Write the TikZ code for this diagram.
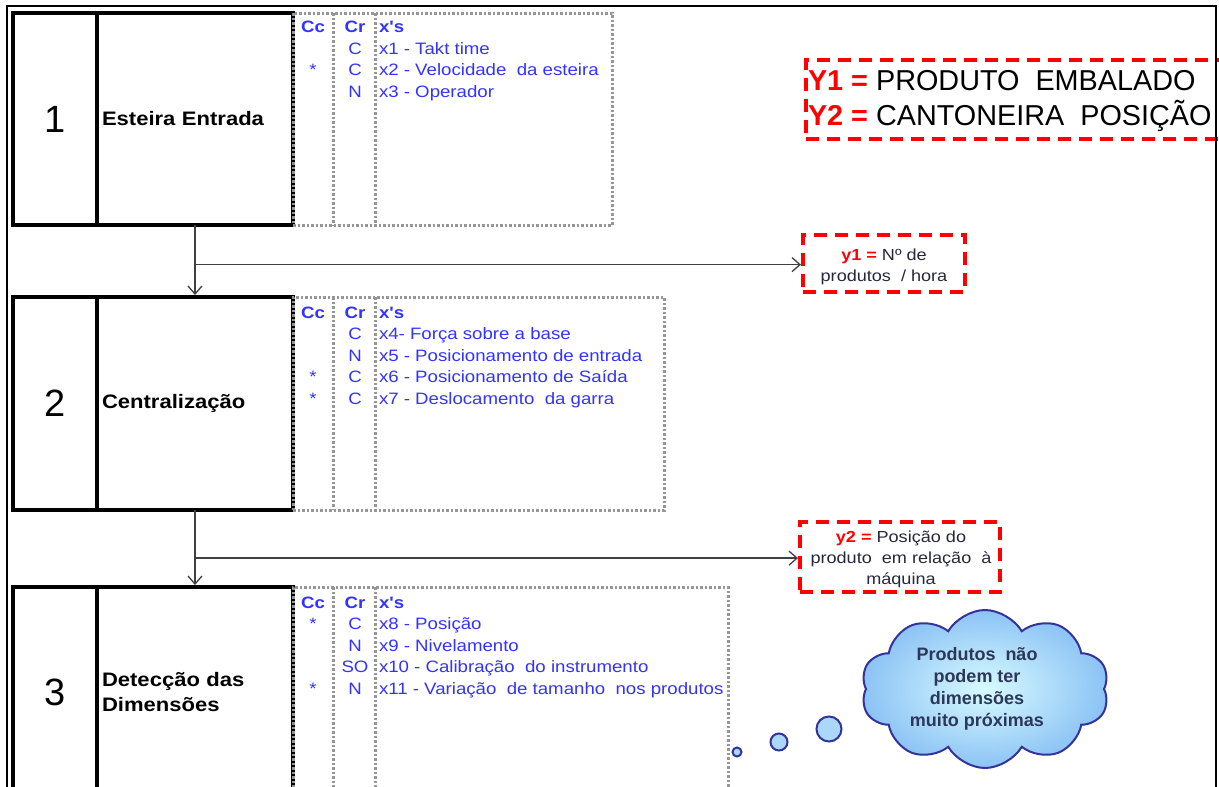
\documentclass[tikz,border=0pt]{standalone}
\usepackage{fontspec}
\setmainfont{Liberation Sans}
\newfontfamily\wide[FakeStretch=1.13]{Liberation Sans}
\usetikzlibrary{arrows.meta,shapes.symbols,calc}

\definecolor{xblue}{RGB}{51,51,255}
\definecolor{yred}{RGB}{255,0,0}
\definecolor{cloudline}{RGB}{51,51,153}
\definecolor{cloudtext}{RGB}{45,55,90}
\definecolor{cloudin}{RGB}{215,250,255}
\definecolor{cloudout}{RGB}{140,195,245}
\definecolor{bubblefill}{RGB}{170,215,250}
\definecolor{dotgray}{RGB}{150,150,150}
\definecolor{flowgray}{RGB}{64,64,64}
\definecolor{ytext}{RGB}{40,40,60}

\tikzset{
  every node/.style={inner sep=0pt, outer sep=0pt},
  numbox/.style={draw=black, line width=4pt, minimum width=84pt,
    font=\fontsize{38}{40}\selectfont},
  namebox/.style={draw=black, line width=4pt, minimum width=196pt,
    text width=186pt, align=left,
    font=\wide\bfseries\fontsize{19.5}{25}\selectfont},
  dotbox/.style={draw=dotgray, line width=3pt, dash pattern=on 2.5pt off 2pt},
  hdr/.style={anchor=base, text=xblue, font=\wide\bfseries\fontsize{16.5}{19}\selectfont},
  cell/.style={anchor=base, text=xblue, font=\wide\fontsize{16.5}{19}\selectfont},
  xtext/.style={anchor=base west, text=xblue, font=\wide\fontsize{16.5}{19}\selectfont},
  ybox/.style={draw=yred, line width=4pt, dash pattern=on 13pt off 8pt},
  ylabel/.style={align=center, text=ytext, font=\wide\fontsize{16}{21}\selectfont},
  bigy/.style={anchor=base west, font=\fontsize{28.8}{32}\selectfont},
  flow/.style={draw=flowgray, line width=1.3pt, shorten >=2pt,
    -{Straight Barb[length=8pt,width=14pt,line width=1.3pt]}},
  frame/.style={draw=black, line width=1.5pt},
  thought/.style={shape=cloud, cloud puffs=10, cloud puff arc=120, aspect=1.6,
    draw=cloudline, line width=2pt, inner color=cloudin, outer color=cloudout},
  bubble/.style={circle, draw=cloudline, line width=2pt, fill=bubblefill},
}

% one row of the Cc / Cr / x's table
\newcommand\xrow[5]{%
  \node[cell]  (#1c) at (313,#2) {#3};
  \node[cell]  (#1r) at (355,#2) {#4};
  \node[xtext] (#1x) at (379,#2) {#5};}

\begin{document}
\begin{tikzpicture}[x=1pt,y=-1pt]
\clip (0,0) rectangle (1219,787);
\fill[white] (0,0) rectangle (1219,787);

% ---------- step 1 ----------
\node[numbox, minimum height=212pt] (n1) at (55,119) {1};
\node[namebox, minimum height=212pt] (s1) at (195,119) {Esteira Entrada};
\node[dotbox, minimum width=319pt, minimum height=212pt] (d1) at (452.5,119) {};
\draw[dotbox] ([xshift=40pt]d1.north west) -- ([xshift=40pt]d1.south west);
\draw[dotbox] ([xshift=82pt]d1.north west) -- ([xshift=82pt]d1.south west);
\xrow{h1}{32.5}{\bfseries Cc}{\bfseries Cr}{\bfseries x's}
\xrow{a1}{54}{}{C}{x1 - Takt time}
\xrow{a2}{75.5}{*}{C}{x2 - Velocidade\ \ da esteira}
\xrow{a3}{97}{}{N}{x3 - Operador}

% ---------- step 2 ----------
\node[numbox, minimum height=213pt] (n2) at (55,403.5) {2};
\node[namebox, minimum height=213pt] (s2) at (195,403.5) {Centralização};
\node[dotbox, minimum width=371pt, minimum height=213pt] (d2) at (478.5,403.5) {};
\draw[dotbox] ([xshift=40pt]d2.north west) -- ([xshift=40pt]d2.south west);
\draw[dotbox] ([xshift=82pt]d2.north west) -- ([xshift=82pt]d2.south west);
\xrow{h2}{318}{\bfseries Cc}{\bfseries Cr}{\bfseries x's}
\xrow{b1}{339.5}{}{C}{x4- Força sobre a base}
\xrow{b2}{361}{}{N}{x5 - Posicionamento de entrada}
\xrow{b3}{382.5}{*}{C}{x6 - Posicionamento de Saída}
\xrow{b4}{404}{*}{C}{x7 - Deslocamento\ \ da garra}

% ---------- step 3 ----------
\node[numbox, minimum height=210pt] (n3) at (55,692) {3};
\node[namebox, minimum height=210pt] (s3) at (195,692) {Detecção das\\Dimensões};
\node[dotbox, minimum width=435pt, minimum height=210pt] (d3) at (510.5,692) {};
\draw[dotbox] ([xshift=40pt]d3.north west) -- ([xshift=40pt]d3.south west);
\draw[dotbox] ([xshift=82pt]d3.north west) -- ([xshift=82pt]d3.south west);
\xrow{h3}{608}{\bfseries Cc}{\bfseries Cr}{\bfseries x's}
\xrow{c1}{629.5}{*}{C}{x8 - Posição}
\xrow{c2}{651}{}{N}{x9 - Nivelamento}
\xrow{c3}{672.5}{}{SO}{x10 - Calibração\ \ do instrumento}
\xrow{c4}{694}{*}{N}{x11 - Variação\ \ de tamanho\ \ nos produtos}

% ---------- outputs ----------
\node[ybox, minimum width=424pt, minimum height=79pt] (Ybox) at (1018,99.5) {};
\node[bigy] (Y1) at (808,90) {\textcolor{yred}{\bfseries Y1 =} PRODUTO\ \ EMBALADO};
\node[bigy] (Y2) at (808,125) {\textcolor{yred}{\bfseries Y2 =} CANTONEIRA\ \ POSIÇÃO};

\node[ybox, minimum width=162pt, minimum height=57pt] (y1) at (884,263.5) {};
\node[ylabel] (y1t) at (884,267) {\textcolor{yred}{\bfseries y1 =} Nº de\\produtos\ \ / hora};

\node[ybox, minimum width=200pt, minimum height=70pt] (y2) at (900,557) {};
\node[ylabel] (y2t) at (901,559) {\textcolor{yred}{\bfseries y2 =} Posição do\\produto\ \ em relação\ \ à\\máquina};

% ---------- flow ----------
\draw[flow] (s1.south) -- (s2.north);
\coordinate (j1) at ($(s1.south)!0.55!(s2.north)$);
\draw[flow] (j1) -- (j1 -| y1.west);
\draw[flow] (s2.south) -- (s3.north);
\coordinate (j2) at ($(s2.south)!0.625!(s3.north)$);
\draw[flow] (j2) -- (j2 -| y2.west);

% ---------- thought cloud ----------
\node[thought, minimum width=248pt, minimum height=158pt] (cl) at (985,689) {};
\node[align=center, text=cloudtext, font=\bfseries\fontsize{18}{22}\selectfont] (clt) at (977,689)
  {Produtos\ \ não\\podem ter\\dimensões\\muito próximas};
\node[bubble, minimum size=9pt]  (bub1) at (737,752) {};
\node[bubble, minimum size=17pt] (bub2) at (779,742) {};
\node[bubble, minimum size=25pt] (bub3) at (829,729) {};

% ---------- outer frame ----------
\draw[frame] (7,800) -- (7,6) -- (1216,6) -- (1216,800);
\end{tikzpicture}
\end{document}
